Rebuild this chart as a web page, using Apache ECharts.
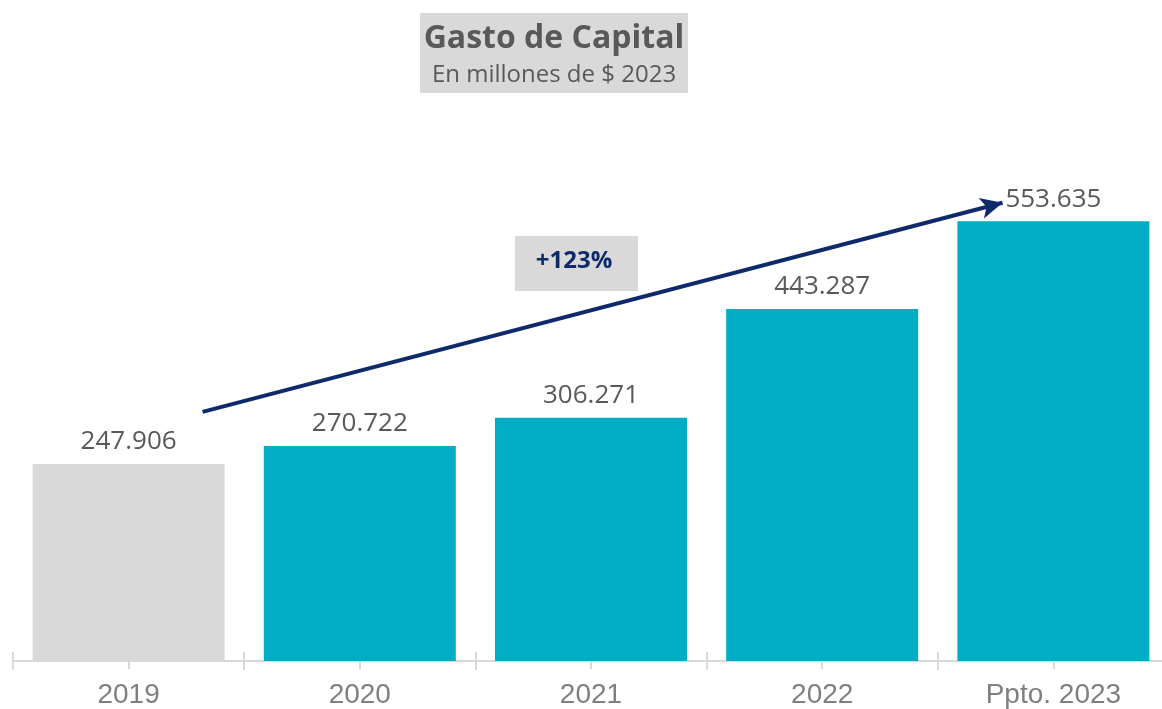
<!DOCTYPE html>
<html>
<head>
<meta charset="utf-8">
<script src="https://cdn.jsdelivr.net/npm/echarts@6/dist/echarts.min.js"></script>
<style>
  html, body { margin: 0; padding: 0; background: #ffffff; overflow: hidden; }
  #chart { width: 1180px; height: 709px; }
</style>
</head>
<body>
<div id="chart"></div>
<script>
// Capital expenditure, millions of 2023 pesos
const categories = ['2019', '2020', '2021', '2022', 'Ppto. 2023'];
const values = [247906, 270722, 306271, 443287, 553635];

// Growth annotation: arrow endpoints in data space (category index, value)
const arrowStart = [0.32, 313600];
const arrowEnd = [3.78, 577000];
const growthLabel = '+123%';

const titleText = 'Gasto de Capital';
const subtitleText = 'En millones de $ 2023';

const TEAL = '#00adc5';
const GREY = '#d9d9d9';
const NAVY = '#0f2a6b';

function fmtThousands(v) {
  return String(Math.round(v)).replace(/\B(?=(\d{3})+(?!\d))/g, '.');
}

const chart = echarts.init(document.getElementById('chart'), null, { renderer: 'canvas' });

// the axis runs slightly past the right edge of the visible page
const grid = { left: 13, width: 1156, top: 105, bottom: 48 };
const tickStyle = { color: '#d9d9d9', width: 2 };

const option = {
  animation: false,
  backgroundColor: '#ffffff',
  grid: grid,
  xAxis: [
    {
      type: 'category',
      position: 'bottom',
      data: categories,
      boundaryGap: true,
      axisLine: { show: true, lineStyle: { color: '#d9d9d9', width: 2 } },
      axisTick: { show: true, inside: false, length: 9, lineStyle: tickStyle },
      axisLabel: {
        show: true,
        margin: 20,
        color: '#7f7f7f',
        fontFamily: 'Liberation Sans, Arial, sans-serif',
        fontSize: 28
      },
      splitLine: { show: false }
    },
    {
      type: 'category',
      position: 'bottom',
      offset: 0,
      data: categories,
      boundaryGap: true,
      axisLine: { show: false },
      axisTick: { show: true, inside: true, length: 9, lineStyle: tickStyle },
      axisLabel: { show: false },
      splitLine: { show: false }
    },
    {
      type: 'category',
      position: 'bottom',
      offset: 0,
      data: categories,
      boundaryGap: true,
      axisLine: { show: false },
      axisTick: { show: true, alignWithLabel: true, inside: false, length: 8, lineStyle: tickStyle },
      axisLabel: { show: false },
      splitLine: { show: false }
    },
    {
      type: 'value',
      position: 'bottom',
      min: -0.5,
      max: 4.5,
      show: false
    }
  ],
  yAxis: {
    type: 'value',
    min: 0,
    max: 700000,
    show: false,
    splitLine: { show: false }
  },
  series: [
    {
      type: 'bar',
      xAxisIndex: 0,
      barWidth: 192,
      data: values.map((v, i) => ({
        value: v,
        itemStyle: { color: i === 0 ? GREY : TEAL }
      })),
      label: {
        show: true,
        position: 'top',
        distance: 9,
        color: '#595959',
        fontFamily: 'Open Sans, sans-serif',
        fontSize: 26,
        formatter: (p) => fmtThousands(p.value)
      }
    },
    {
      type: 'line',
      xAxisIndex: 3,
      data: [],
      silent: true,
      markLine: {
        silent: true,
        symbol: ['none', 'arrow'],
        symbolSize: [16, 22],
        label: { show: false },
        lineStyle: { color: NAVY, width: 4, type: 'solid' },
        data: [[
          { coord: arrowStart },
          { coord: arrowEnd }
        ]]
      }
    }
  ],
  graphic: [
    {
      type: 'rect',
      left: 420, top: 13,
      shape: { width: 268, height: 80 },
      style: { fill: GREY }
    },
    {
      type: 'text',
      x: 554, y: 39,
      style: {
        text: titleText,
        fill: '#595959',
        font: 'bold 32px "Open Sans", sans-serif',
        textAlign: 'center',
        textVerticalAlign: 'middle'
      }
    },
    {
      type: 'text',
      x: 554, y: 75,
      style: {
        text: subtitleText,
        fill: '#595959',
        font: '24px "Open Sans", sans-serif',
        textAlign: 'center',
        textVerticalAlign: 'middle'
      }
    },
    {
      type: 'rect',
      left: 515, top: 236,
      shape: { width: 123, height: 55 },
      style: { fill: GREY }
    },
    {
      type: 'text',
      x: 574, y: 261,
      style: {
        text: growthLabel,
        fill: NAVY,
        font: 'bold 24px "Open Sans", sans-serif',
        textAlign: 'center',
        textVerticalAlign: 'middle'
      }
    }
  ]
};

chart.setOption(option);
</script>
</body>
</html>
